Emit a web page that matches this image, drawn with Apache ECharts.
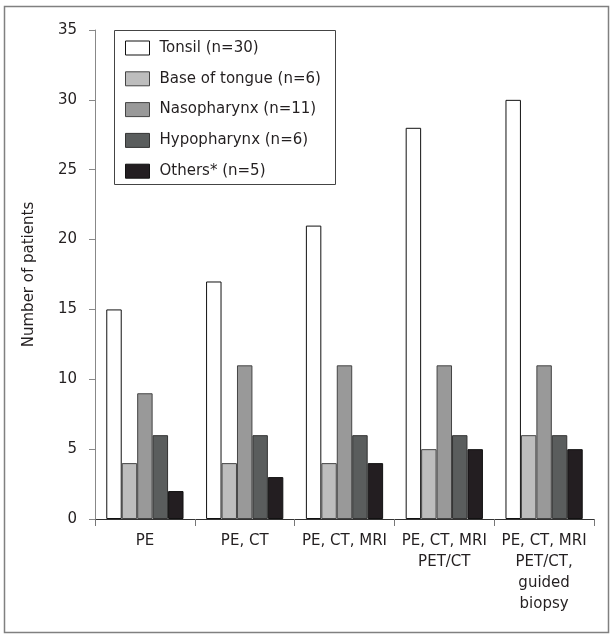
<!DOCTYPE html>
<html>
<head>
<meta charset="utf-8">
<script src="https://cdn.jsdelivr.net/npm/echarts@6/dist/echarts.min.js"></script>
<style>
html,body{margin:0;padding:0;background:#fff;}
#chart{width:613px;height:638px;}
</style>
</head>
<body>
<div id="chart"></div>
<script>
const categories = ['PE', 'PE, CT', 'PE, CT, MRI', 'PE, CT, MRI\nPET/CT', 'PE, CT, MRI\nPET/CT,\nguided\nbiopsy'];
const seriesNames = ['Tonsil (n=30)', 'Base of tongue (n=6)', 'Nasopharynx (n=11)', 'Hypopharynx (n=6)', 'Others* (n=5)'];
const tonsil = [15, 17, 21, 28, 30];
const baseOfTongue = [4, 4, 4, 5, 6];
const nasopharynx = [9, 11, 11, 11, 11];
const hypopharynx = [6, 6, 6, 6, 6];
const others = [2, 3, 4, 5, 5];
const yTicks = {min: 0, max: 35, interval: 5};
const yTitle = 'Number of patients';

const fills = ['#ffffff', '#bdbdbd', '#999999', '#5a5d5d', '#231e21'];
const borders = ['#111111', '#444444', '#444444', '#333333', '#111111'];
const values = [tonsil, baseOfTongue, nasopharynx, hypopharynx, others];
const FONT = 'DejaVu Sans';

const chart = echarts.init(document.getElementById('chart'));
chart.setOption({
  animation: false,
  backgroundColor: '#fff',
  textStyle: {fontFamily: FONT},
  grid: {left: 95, right: 19, top: 30, bottom: 119, containLabel: false},
  graphic: [
    {type: 'rect', shape: {x: 4.5, y: 6.5, width: 604, height: 626}, style: {fill: 'none', stroke: '#808080', lineWidth: 1.5}, z: 0},
    {type: 'rect', shape: {x: 114.5, y: 30.5, width: 221, height: 154}, style: {fill: '#fff', stroke: '#444', lineWidth: 1}, z: 5}
  ],
  legend: {
    orient: 'vertical', left: 114, top: 30,
    padding: [10, 12, 7, 11],
    icon: 'rect',
    itemWidth: 24, itemHeight: 14, itemGap: 14.8,
    itemStyle: {borderWidth: 1},
    z: 10,
    textStyle: {fontFamily: FONT, fontSize: 15, color: '#231f20', lineHeight: 16, padding: [0, 0, 0, 5]},
    data: seriesNames
  },
  xAxis: {
    type: 'category', data: categories,
    axisLine: {lineStyle: {color: '#333', width: 1}},
    axisTick: {show: true, length: 7, lineStyle: {color: '#777'}},
    axisLabel: {fontFamily: FONT, fontSize: 15, color: '#231f20', margin: 12, lineHeight: 21, interval: 0}
  },
  yAxis: {
    type: 'value', min: yTicks.min, max: yTicks.max, interval: yTicks.interval,
    name: yTitle, nameLocation: 'middle', nameGap: 58, nameRotate: 90,
    nameTextStyle: {fontFamily: FONT, fontSize: 15, color: '#231f20'},
    axisLine: {show: true, lineStyle: {color: '#888', width: 1}},
    axisTick: {show: true, length: 6, lineStyle: {color: '#888'}},
    axisLabel: {fontFamily: FONT, fontSize: 15, color: '#231f20', margin: 18},
    splitLine: {show: false}
  },
  series: seriesNames.map((n, i) => ({
    name: n, type: 'bar', data: values[i],
    barGap: '0%', barCategoryGap: '22.6%',
    itemStyle: {color: fills[i], borderColor: borders[i], borderWidth: 1}
  }))
});
</script>
</body>
</html>
